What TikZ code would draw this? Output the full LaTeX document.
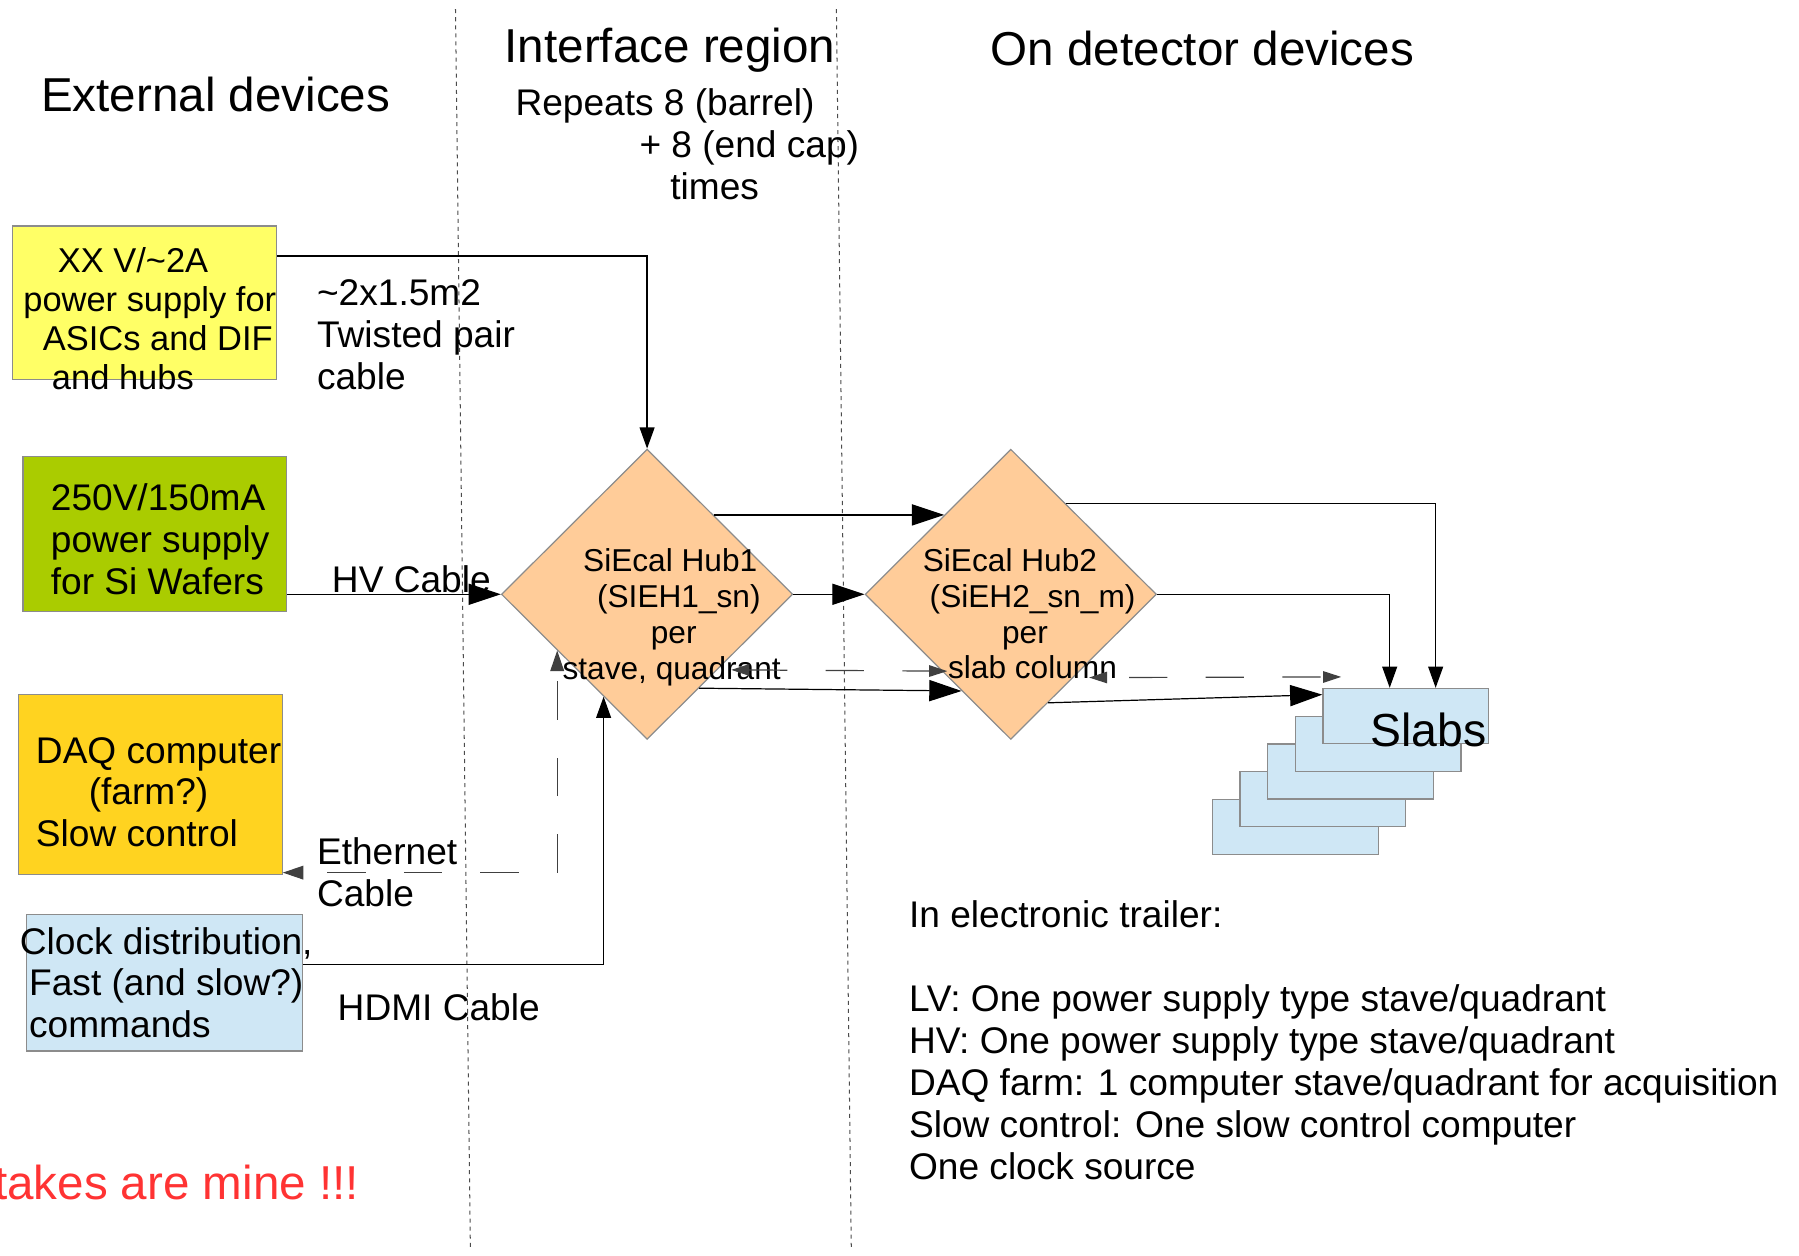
\documentclass[tikz,border=0pt]{standalone}
\usepackage{fontspec}
\setmainfont{Liberation Sans}
\usetikzlibrary{shapes.geometric,arrows.meta}

\definecolor{boxgray}{HTML}{8C8C8C}
\definecolor{psyellow}{HTML}{FFFF66}
\definecolor{psgreen}{HTML}{AACC00}
\definecolor{daqgold}{HTML}{FFD320}
\definecolor{paleblue}{HTML}{CFE7F5}
\definecolor{hubfill}{HTML}{FFCC99}
\definecolor{mistred}{HTML}{FF3333}

\begin{document}
\begin{tikzpicture}[x=0.02cm,y=-0.02cm,
		box/.style={draw=boxgray,line width=0.6pt,inner sep=0pt},
		hub/.style={diamond,draw=boxgray,fill=hubfill,line width=0.6pt,inner sep=0pt,minimum width=5.08cm,minimum height=5.06cm},
		slab/.style={box,fill=paleblue,minimum width=2.89cm,minimum height=0.96cm},
		title/.style={font=\fontsize{23.6}{28}\selectfont,inner sep=0pt},
		txt/.style={font=\fontsize{18.4}{20.8}\selectfont,inner sep=0pt,align=left,anchor=west},
		ytxt/.style={txt,font=\fontsize{17.1}{19.3}\selectfont},
		hubtxt/.style={txt,font=\fontsize{15.7}{17.8}\selectfont},
		divider/.style={draw=black!70,line width=0.5pt,dash pattern=on 2pt off 2pt},
		arrbig/.style={-{Triangle[length=16pt,width=10.5pt]},line width=0.6pt},
		arrmid/.style={-{Triangle[length=10.5pt,width=7.4pt]},line width=0.6pt},
		arrdash/.style={{Triangle[length=9pt,width=5.7pt]}-{Triangle[length=9pt,width=5.7pt]},line width=0.6pt,draw=black!75,dash pattern=on 19pt off 19pt},
		arreth/.style={{Triangle[length=10.2pt,width=6.8pt]}-{Triangle[length=10.2pt,width=6.8pt]},line width=0.6pt,draw=black!75,dash pattern=on 19pt off 19pt,dash phase=26pt}]
	\useasboundingbox (0,0) rectangle (1568,1094);

	\draw[divider] (397,8) -- (410,1090);
	\draw[divider] (729,8) -- (742,1090);

	\node[title] (extitle) at (188,82) {External devices};
	\node[title] (iftitle) at (584,44) {Interface region};
	\node[title] (ontitle) at (1048,42) {On detector devices};
	\node[txt] (repeatlbl) at (449,125.5) {Repeats 8 (barrel)\\\hspace*{61.5pt}+ 8 (end cap)\\\hspace*{76.8pt}times};

	\node[box,fill=psyellow,minimum width=4.6cm,minimum height=2.68cm] (xxps) at (126,264) {};
	\node[box,fill=psgreen,minimum width=4.6cm,minimum height=2.7cm] (hvps) at (135,465.5) {};
	\node[box,fill=daqgold,minimum width=4.6cm,minimum height=3.14cm] (daq) at (131,683.5) {};
	\node[box,fill=paleblue,minimum width=4.82cm,minimum height=2.38cm] (clk) at (143.5,856.5) {};

	\node[ytxt] (xxpstxt) at (20,278) {\hspace*{17.1pt}XX V/\textasciitilde 2A\\power supply for\\\hspace*{9.7pt}ASICs and DIF\\\hspace*{14.2pt}and hubs};
	\node[txt] (hvpstxt) at (44,470) {250V/150mA\\power supply\\for Si Wafers};
	\node[txt] (daqtxt) at (31,690.5) {DAQ computer\\\hspace*{26.2pt}(farm?)\\Slow control};
	\node[txt] (clktxt) at (17,856.5) {Clock distribution,\\\hspace*{4.6pt}Fast (and slow?)\\\hspace*{4.6pt}commands};

	\node[txt] (pairlbl) at (276,291.5) {\textasciitilde 2x1.5m2\\Twisted pair\\cable};
	\node[txt] (hvlbl) at (289,505) {HV Cable};
	\node[txt] (ethlbl) at (276,760) {Ethernet\\Cable};
	\node[txt] (hdmilbl) at (294,878) {HDMI Cable};

	\node[hub] (hubone) at (564,518) {};
	\node[hub] (hubtwo) at (881,518) {};
	\node[hubtxt] (hubonetxt) at (490,537.8) {\hspace*{10.2pt}SiEcal Hub1\\\hspace*{17.1pt}(SIEH1\_sn)\\\hspace*{43.8pt}per\\stave, quadrant};
	\node[hubtxt] (hubtwotxt) at (804,535) {SiEcal Hub2\\\hspace*{3.4pt}(SiEH2\_sn\_m)\\\hspace*{39.3pt}per\\\hspace*{12.5pt}slab column};

	\node[slab] (slabE) at (1128.9,720.8) {};
	\node[slab] (slabD) at (1153,696.6) {};
	\node[slab] (slabC) at (1177.1,672.4) {};
	\node[slab] (slabB) at (1201.2,648.2) {};
	\node[slab] (slabA) at (1225.3,624) {};
	\node[title,font=\fontsize{23}{28}\selectfont] (slabtxt) at (1245,636) {Slabs};
	\coordinate (slabend) at (1169,590);

	\node[txt] (trailer) at (792,906.5) {In electronic trailer:\\[20.8pt]LV: One power supply type stave/quadrant\\HV: One power supply type stave/quadrant\\DAQ farm: 1 computer stave/quadrant for acquisition\\Slow control: One slow control computer\\One clock source};
	\node[title,text=mistred,anchor=west] (mistakes) at (-5.5,1031) {takes are mine !!!};

	\draw[arrmid] ([yshift=23.3pt]xxps.east) -| (hubone.north);
	\draw[arrbig] (hvps.east |- hubone.west) -- (hubone.west);
	\draw[arrbig] (hubone.east) -- (hubtwo.west);
	\draw[arrbig] (hubone.50) -- (hubtwo.130);
	\draw[arrbig] (hubone.-61) -- (hubtwo.-117);
	\draw[arrdash] ([xshift=6.8pt]hubone.-47) -- ([xshift=2.8pt]hubtwo.-132);
	\draw[arrdash,dash phase=27pt] ([xshift=7.7pt]hubtwo.-53) -- (slabend);
	\draw[arrbig] (hubtwo.-71) -- ([yshift=-3.4pt]slabA.north west);
	\draw[arrmid] (hubtwo.east) -| ([xshift=-8pt]slabA.north);
	\draw[arrmid] (hubtwo.59) -| ([xshift=14.8pt]slabA.north);
	\draw[arreth] ([yshift=1.1pt]daq.south east) -| (hubone.212);
	\draw[arrmid] ([yshift=9.1pt]clk.east) -| (hubone.247);
\end{tikzpicture}
\end{document}
